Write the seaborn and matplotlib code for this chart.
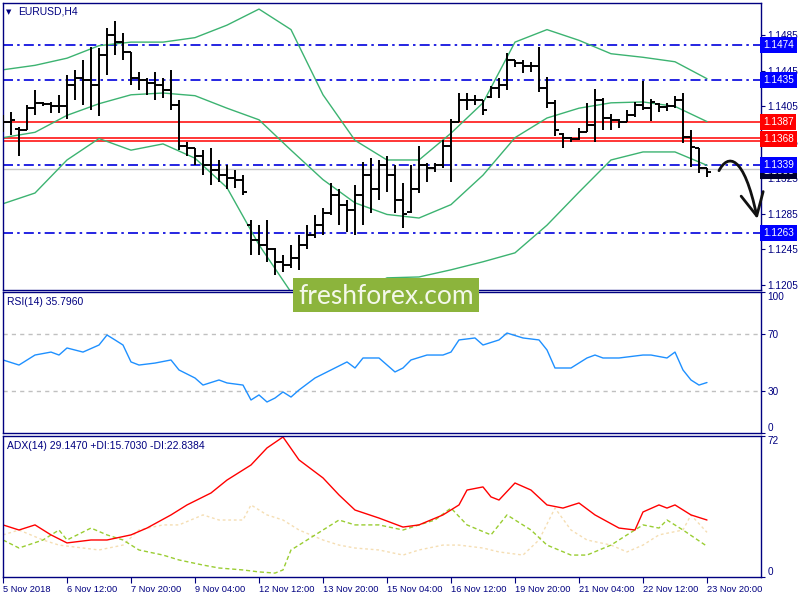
import matplotlib
matplotlib.use('Agg')
import matplotlib.pyplot as plt
import matplotlib.transforms as mtransforms
from matplotlib.path import Path
from matplotlib.patches import FancyArrowPatch, Rectangle
import pandas as pd
import seaborn as sns

# ---- price bars (H4) ----
opens = [1.1390, 1.1388, 1.1380, 1.1379, 1.1403, 1.1409, 1.1408, 1.1405, 1.1405, 1.1429,
         1.1437, 1.1435, 1.1429, 1.1463, 1.1485, 1.1477, 1.1466, 1.1437, 1.1435, 1.1431,
         1.1429, 1.1423, 1.1407, 1.1361, 1.1358, 1.1350, 1.1339, 1.1334, 1.1328, 1.1325,
         1.1323, 1.1272, 1.1255, 1.1250, 1.1245, 1.1231, 1.1227, 1.1235, 1.1250, 1.1261,
         1.1272, 1.1286, 1.1306, 1.1295, 1.1289, 1.1306, 1.1328, 1.1312, 1.1339, 1.1328,
         1.1300, 1.1287, 1.1312, 1.1339, 1.1336, 1.1339, 1.1361, 1.1388, 1.1412, 1.1412,
         1.1412, 1.1416, 1.1426, 1.1429, 1.1457, 1.1454, 1.1450, 1.1450, 1.1426, 1.1409,
         1.1374, 1.1370, 1.1369, 1.1376, 1.1384, 1.1412, 1.1392, 1.1390, 1.1388, 1.1395,
         1.1407, 1.1403, 1.1408, 1.1404, 1.1405, 1.1412, 1.1371, 1.1358, 1.1336]
highs = [1.1395, 1.1399, 1.1382, 1.1407, 1.1423, 1.1410, 1.1410, 1.1418, 1.1440, 1.1446,
         1.1457, 1.1472, 1.1470, 1.1493, 1.1501, 1.1487, 1.1466, 1.1444, 1.1437, 1.1444,
         1.1437, 1.1446, 1.1412, 1.1365, 1.1358, 1.1356, 1.1358, 1.1345, 1.1339, 1.1334,
         1.1328, 1.1278, 1.1272, 1.1278, 1.1246, 1.1239, 1.1250, 1.1261, 1.1272, 1.1283,
         1.1291, 1.1319, 1.1312, 1.1300, 1.1317, 1.1343, 1.1347, 1.1345, 1.1350, 1.1339,
         1.1319, 1.1339, 1.1361, 1.1342, 1.1342, 1.1367, 1.1391, 1.1420, 1.1420, 1.1418,
         1.1412, 1.1428, 1.1437, 1.1465, 1.1457, 1.1457, 1.1455, 1.1472, 1.1438, 1.1412,
         1.1375, 1.1371, 1.1381, 1.1409, 1.1424, 1.1414, 1.1396, 1.1391, 1.1401, 1.1410,
         1.1433, 1.1413, 1.1409, 1.1409, 1.1417, 1.1420, 1.1379, 1.1358, 1.1336]
lows = [1.1376, 1.1373, 1.1350, 1.1379, 1.1395, 1.1405, 1.1398, 1.1398, 1.1391, 1.1412,
        1.1407, 1.1401, 1.1394, 1.1440, 1.1463, 1.1457, 1.1429, 1.1423, 1.1418, 1.1412,
        1.1414, 1.1401, 1.1356, 1.1350, 1.1339, 1.1328, 1.1317, 1.1320, 1.1312, 1.1314,
        1.1306, 1.1239, 1.1239, 1.1231, 1.1216, 1.1220, 1.1224, 1.1222, 1.1245, 1.1258,
        1.1261, 1.1283, 1.1272, 1.1264, 1.1261, 1.1272, 1.1286, 1.1300, 1.1309, 1.1286,
        1.1269, 1.1286, 1.1308, 1.1320, 1.1331, 1.1336, 1.1320, 1.1388, 1.1401, 1.1407,
        1.1395, 1.1414, 1.1414, 1.1423, 1.1449, 1.1442, 1.1444, 1.1421, 1.1403, 1.1372,
        1.1358, 1.1365, 1.1367, 1.1376, 1.1365, 1.1379, 1.1379, 1.1381, 1.1388, 1.1393,
        1.1401, 1.1389, 1.1399, 1.1400, 1.1403, 1.1364, 1.1337, 1.1330, 1.1326]
closes = [1.1388, 1.1390, 1.1379, 1.1403, 1.1409, 1.1408, 1.1405, 1.1405, 1.1429, 1.1437,
          1.1435, 1.1429, 1.1463, 1.1485, 1.1477, 1.1466, 1.1437, 1.1435, 1.1431, 1.1429,
          1.1423, 1.1407, 1.1361, 1.1358, 1.1350, 1.1339, 1.1334, 1.1328, 1.1325, 1.1323,
          1.1309, 1.1255, 1.1250, 1.1245, 1.1231, 1.1227, 1.1235, 1.1250, 1.1261, 1.1272,
          1.1286, 1.1306, 1.1295, 1.1289, 1.1306, 1.1328, 1.1312, 1.1339, 1.1328, 1.1300,
          1.1285, 1.1312, 1.1339, 1.1336, 1.1339, 1.1361, 1.1388, 1.1412, 1.1412, 1.1412,
          1.1401, 1.1426, 1.1429, 1.1457, 1.1454, 1.1450, 1.1450, 1.1426, 1.1409, 1.1379,
          1.1370, 1.1369, 1.1376, 1.1384, 1.1412, 1.1392, 1.1390, 1.1388, 1.1395, 1.1407,
          1.1403, 1.1410, 1.1404, 1.1405, 1.1412, 1.1371, 1.1359, 1.1336, 1.1331]

# ---- Bollinger bands, read every 4 bars ----
band_x = list(range(0, 89, 4))
band_upper = [1.1446, 1.1451, 1.1459, 1.1473, 1.1477, 1.1477, 1.1482, 1.1496, 1.1514, 1.1491,
              1.1418, 1.1367, 1.1345, 1.1345, 1.1375, 1.1409, 1.1477, 1.1491, 1.1479, 1.1464,
              1.1460, 1.1455, 1.1436]
band_mid = [1.1370, 1.1376, 1.1395, 1.1408, 1.1418, 1.1420, 1.1417, 1.1403, 1.1390, 1.1356,
            1.1323, 1.1297, 1.1284, 1.1280, 1.1295, 1.1328, 1.1370, 1.1392, 1.1403, 1.1409,
            1.1410, 1.1405, 1.1388]
band_lower = [1.1296, 1.1308, 1.1345, 1.1369, 1.1356, 1.1363, 1.1347, 1.1314, 1.1250, 1.1197,
              1.1188, 1.1194, 1.1213, 1.1214, 1.1222, 1.1231, 1.1241, 1.1272, 1.1309, 1.1345,
              1.1354, 1.1354, 1.1339]

# ---- RSI(14) ----
rsi_x = [0, 2, 4, 6, 7, 8, 10, 12, 13, 14, 15, 16, 17, 19, 21, 22, 24, 25, 27, 28,
         30, 31, 32, 33, 34, 35, 36, 37, 39, 41, 43, 44, 45, 47, 49, 50, 51, 53, 55, 56,
         57, 59, 60, 62, 63, 65, 67, 68, 69, 71, 73, 74, 75, 77, 80, 81, 83, 84, 85, 86,
         87, 88]
rsi_val = [51.8, 48.2, 55.3, 57.4, 55.3, 60.3, 57.4, 62.4, 69.5, 66.0, 62.4, 50.4, 48.2, 49.6,
           51.8, 44.7, 39.0, 34.0, 37.6, 35.5, 34.0, 23.4, 27.0, 22.0, 24.8, 29.1, 25.5, 30.5,
           39.0, 44.7, 50.4, 46.1, 53.2, 53.2, 43.3, 46.1, 51.8, 55.3, 55.3, 57.4, 66.0, 67.4,
           62.4, 66.0, 70.9, 67.4, 66.0, 58.9, 46.1, 46.1, 53.2, 55.3, 53.2, 53.2, 55.3, 55.3,
           53.2, 57.4, 44.7, 37.6, 34.0, 35.8]

# ---- ADX(14) ----
adx_x = [0, 2, 4, 6, 8, 11, 13, 16, 18, 21, 23, 26, 28, 31, 33, 35, 37, 40, 42, 44,
         47, 50, 52, 55, 57, 58, 60, 61, 62, 64, 66, 68, 70, 72, 74, 77, 79, 80, 82, 83,
         84, 86, 88]
adx_val = [26.6, 24.0, 26.6, 21.5, 17.4, 18.9, 18.9, 21.5, 25.0, 31.7, 36.8, 42.9, 49.5, 57.2,
           65.9, 71.5, 59.8, 50.6, 41.9, 34.2, 30.1, 25.5, 26.6, 31.7, 36.8, 44.4, 46.0, 40.9,
           39.3, 48.0, 44.4, 36.8, 35.2, 37.8, 31.7, 25.0, 24.0, 33.2, 36.8, 35.2, 36.8, 31.7,
           29.1]
pdi_x = [0, 2, 5, 7, 8, 11, 13, 15, 17, 20, 22, 25, 27, 30, 32, 34, 35, 36, 37, 40,
         42, 44, 47, 50, 52, 54, 56, 58, 61, 63, 66, 68, 71, 73, 76, 78, 80, 82, 83, 85,
         88]
pdi_val = [18.9, 14.8, 18.9, 24.0, 18.9, 25.0, 21.5, 18.9, 13.8, 11.2, 8.7, 6.1, 4.6, 3.6,
           2.6, 2.0, 3.6, 13.8, 16.3, 24.0, 29.1, 26.6, 26.6, 24.0, 26.6, 29.1, 35.2, 26.6,
           21.5, 31.7, 24.0, 16.3, 11.2, 11.2, 16.3, 21.5, 26.6, 25.0, 29.1, 24.0, 15.7]
mdi_x = [0, 2, 5, 7, 10, 12, 15, 17, 20, 22, 25, 27, 30, 31, 33, 35, 37, 40, 42, 44,
         47, 50, 52, 55, 57, 60, 62, 65, 67, 69, 71, 73, 76, 78, 80, 82, 85, 86, 88]
mdi_val = [21.5, 24.0, 18.9, 16.3, 14.8, 13.8, 16.3, 24.0, 26.6, 26.6, 31.7, 29.1, 29.1, 36.8,
           31.7, 29.1, 24.0, 18.9, 16.3, 14.8, 13.8, 11.2, 13.8, 16.3, 16.3, 14.8, 12.8, 11.2,
           18.9, 35.2, 24.0, 18.9, 16.3, 12.8, 16.3, 21.5, 24.0, 31.7, 22.8]

# ---- levels and labels ----
blue_levels = [1.1474, 1.1435, 1.1339, 1.1263]
red_levels = [1.1387, 1.1368]
bid_price = 1.1335
price_ticks = [1.1485, 1.1445, 1.1405, 1.1365, 1.1325, 1.1285, 1.1245, 1.1205]
time_pos = list(range(0, 89, 8))
time_labels = ['5 Nov 2018', '6 Nov 12:00', '7 Nov 20:00', '9 Nov 04:00', '12 Nov 12:00',
               '13 Nov 20:00', '15 Nov 04:00', '16 Nov 12:00', '19 Nov 20:00', '21 Nov 04:00',
               '22 Nov 12:00', '23 Nov 20:00']

NAVY = '#000080'
FS = 7.2
sns.set_theme(style='white')
plt.rcParams['font.family'] = ['Liberation Sans', 'DejaVu Sans']
plt.rcParams['font.size'] = FS

fig = plt.figure(figsize=(8, 6), dpi=100, facecolor='white')
ax = fig.add_axes([0.003125, 0.51667, 0.9475, 0.47833])
ax_rsi = fig.add_axes([0.003125, 0.27833, 0.9475, 0.235])
ax_adx = fig.add_axes([0.003125, 0.03833, 0.9475, 0.235])

XLIM = (-0.0625, 94.69)
for a in (ax, ax_rsi, ax_adx):
    a.set_xlim(*XLIM)
    a.set_facecolor('white')
    for s in a.spines.values():
        s.set_color(NAVY)
        s.set_linewidth(1.0)
    a.yaxis.tick_right()
    a.tick_params(axis='y', which='both', right=True, left=False, direction='out',
                  length=3, width=0.8, color=NAVY, labelcolor=NAVY, labelsize=FS, pad=2)
    a.tick_params(axis='x', bottom=False, labelbottom=False)
    a.grid(False)

# ---- main price panel ----
ax.set_ylim(1.11994, 1.15208)
ax.set_yticks(price_ticks)
ax.set_yticklabels([f'{p:.4f}' for p in price_ticks])

for lvl in blue_levels:
    ax.axhline(lvl, color='#0000dd', lw=1.2, ls=(0, (6, 2.5, 1.5, 2.5)), zorder=1)
ax.axhline(bid_price, color='#c8c8c8', lw=1.0, zorder=1)
ax.axhline(red_levels[0], color='red', lw=1.1, zorder=1)
ax.axhline(red_levels[1] + 0.00013, color='red', lw=1.1, zorder=1)
ax.axhline(red_levels[1] - 0.00013, color='red', lw=1.1, zorder=1)

bands = pd.DataFrame({'bar': band_x, 'upper': band_upper, 'mid': band_mid, 'lower': band_lower})
for col in ['upper', 'mid', 'lower']:
    sns.lineplot(data=bands, x='bar', y=col, ax=ax, color='#3cb371', lw=1.0, zorder=2)

idx = list(range(len(closes)))
ax.vlines(idx, lows, highs, color='black', lw=1.4, zorder=3)
ax.hlines(opens, [i - 0.45 for i in idx], idx, color='black', lw=1.4, zorder=3)
ax.hlines(closes, idx, [i + 0.45 for i in idx], color='black', lw=1.4, zorder=3)
ax.set_xlabel('')
ax.set_ylabel('')

tr = mtransforms.blended_transform_factory(ax.transAxes, ax.transData)
ax.text(1.003, bid_price - 0.0002, f'{bid_price:.4f}', transform=tr, ha='left', va='center',
        color='white', fontsize=FS, zorder=5,
        bbox=dict(boxstyle='square,pad=0.3', fc='#000030', ec='none'))
for lvl in blue_levels:
    ax.text(1.003, lvl, f'{lvl:.4f}', transform=tr, ha='left', va='center', color='white',
            fontsize=FS, zorder=6, bbox=dict(boxstyle='square,pad=0.3', fc='#0000ff', ec='none'))
for lvl in red_levels:
    ax.text(1.003, lvl, f'{lvl:.4f}', transform=tr, ha='left', va='center', color='white',
            fontsize=FS, zorder=6, bbox=dict(boxstyle='square,pad=0.3', fc='#ff0000', ec='none'))

ax.text(0.005, 0.969, '\u25bc', transform=ax.transAxes, fontsize=5, color=NAVY,
        va='center', ha='left', family='DejaVu Sans')
ax.text(0.021, 0.969, 'EURUSD,H4', transform=ax.transAxes, fontsize=7.5, color=NAVY,
        va='center', ha='left')

# hand drawn forecast arrow
arrow_path = Path([(89.5, 1.1333), (90.6, 1.1352), (92.6, 1.1352), (94.3, 1.1279)],
                  [Path.MOVETO, Path.CURVE4, Path.CURVE4, Path.CURVE4])
arrow = FancyArrowPatch(path=arrow_path, arrowstyle='->,head_length=0.9,head_width=0.45',
                        mutation_scale=18, lw=2.0, color='#111111', transform=ax.transData,
                        zorder=7, clip_on=False)
ax.add_patch(arrow)

# ---- RSI panel ----
ax_rsi.set_ylim(0, 100)
ax_rsi.axhline(70, color='#c0c0c0', lw=1.0, ls=(0, (3, 3)))
ax_rsi.axhline(30, color='#c0c0c0', lw=1.0, ls=(0, (3, 3)))
rsi = pd.DataFrame({'bar': rsi_x, 'rsi': rsi_val})
sns.lineplot(data=rsi, x='bar', y='rsi', ax=ax_rsi, color='#1e90ff', lw=1.0)
ax_rsi.set_xlabel('')
ax_rsi.set_ylabel('')
ax_rsi.set_yticks([100, 70, 30, 0])
ax_rsi.set_yticklabels(['100', '70', '30', '0'])
for lab in ax_rsi.get_yticklabels():
    if lab.get_text() == '100':
        lab.set_va('top')
    elif lab.get_text() == '0':
        lab.set_va('bottom')
ax_rsi.text(0.006, 0.93, 'RSI(14) 35.7960', transform=ax_rsi.transAxes, color=NAVY,
            fontsize=7.5, va='center', ha='left')

# ---- ADX panel ----
ax_adx.set_ylim(0, 72)
pdi = pd.DataFrame({'bar': pdi_x, 'val': pdi_val})
mdi = pd.DataFrame({'bar': mdi_x, 'val': mdi_val})
adx = pd.DataFrame({'bar': adx_x, 'val': adx_val})
sns.lineplot(data=mdi, x='bar', y='val', ax=ax_adx, color='#f5deb3', lw=1.0, ls=(0, (2, 2)))
sns.lineplot(data=pdi, x='bar', y='val', ax=ax_adx, color='#9acd32', lw=1.0, ls=(0, (3, 2)))
sns.lineplot(data=adx, x='bar', y='val', ax=ax_adx, color='#ff0000', lw=1.0)
ax_adx.set_xlabel('')
ax_adx.set_ylabel('')
ax_adx.set_yticks([72, 0])
ax_adx.set_yticklabels(['72', '0'])
for lab in ax_adx.get_yticklabels():
    lab.set_va('top' if lab.get_text() == '72' else 'bottom')
ax_adx.text(0.006, 0.93, 'ADX(14) 29.1470 +DI:15.7030 -DI:22.8384', transform=ax_adx.transAxes,
            color=NAVY, fontsize=7.5, va='center', ha='left')

ax_adx.set_xticks(time_pos)
ax_adx.set_xticklabels(time_labels)
ax_adx.tick_params(axis='x', bottom=True, labelbottom=True, direction='out', length=4,
                   width=0.8, color=NAVY, labelcolor=NAVY, labelsize=6.7, pad=2)
for lab in ax_adx.get_xticklabels():
    lab.set_ha('left')

# ---- watermark ----
fig.add_artist(Rectangle((293 / 800, 1 - 312 / 600), 186 / 800, 34 / 600,
                         transform=fig.transFigure, fc='#8cb43c', ec='none', zorder=10))
fig.text(386 / 800, 1 - 296 / 600, 'freshforex.com', ha='center', va='center', fontsize=19,
         color='#f4f8ea', family='Lato', zorder=11)

fig.savefig('out.png', dpi=100, facecolor='white')
